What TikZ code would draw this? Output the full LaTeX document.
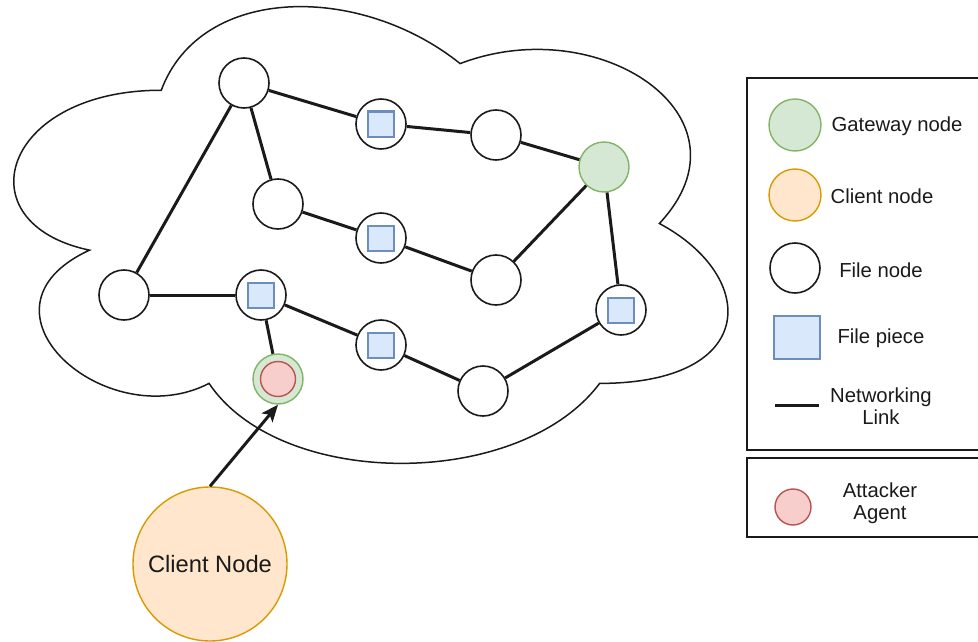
\documentclass[tikz,border=0pt]{standalone}
\usepackage{fontspec}
\setmainfont{Liberation Sans}
\usetikzlibrary{arrows.meta}

\definecolor{gwfill}{HTML}{D5E8D4}
\definecolor{gwline}{HTML}{82B366}
\definecolor{clfill}{HTML}{FFE6CC}
\definecolor{clline}{HTML}{D79B00}
\definecolor{pcfill}{HTML}{DAE8FC}
\definecolor{pcline}{HTML}{6C8EBF}
\definecolor{atfill}{HTML}{F8CECC}
\definecolor{atline}{HTML}{B85450}
\definecolor{ink}{HTML}{1A1A1A}

\tikzset{
  x=1pt, y=-1pt,
  filenode/.style={circle, draw=ink, fill=white, line width=1.6pt, minimum size=50pt, inner sep=0pt},
  gwnode/.style={circle, draw=gwline, fill=gwfill, line width=1.4pt, minimum size=50pt, inner sep=0pt},
  clnode/.style={circle, draw=clline, fill=clfill, line width=1.4pt, inner sep=0pt},
  atnode/.style={circle, draw=atline, fill=atfill, line width=1.4pt, minimum size=35pt, inner sep=0pt},
  piece/.style={rectangle, draw=pcline, fill=pcfill, line width=2pt, minimum width=26pt, minimum height=25pt, inner sep=0pt},
  link/.style={draw=ink, line width=3pt},
  cloudline/.style={draw=ink, line width=1.5pt},
  boxline/.style={draw=ink, line width=1.5pt},
  legtext/.style={font=\fontsize{20.3}{22.5}\selectfont, text=ink, align=center, inner sep=0pt},
}

\begin{document}
\begin{tikzpicture}
\useasboundingbox (0,0) rectangle (978,642);

% cloud outline
\draw[cloudline] (161.25,90.25)
  .. controls (1.85,90.25) and (-38,223.5) .. (89.52,250.15)
  .. controls (-38,308.78) and (105.46,436.7) .. (209.07,383.4)
  .. controls (280.8,490) and (519.9,490) .. (599.6,383.4)
  .. controls (759,383.4) and (759,276.8) .. (659.38,223.5)
  .. controls (759,116.9) and (599.6,10.3) .. (460.13,63.6)
  .. controls (360.5,-16.35) and (201.1,-16.35) .. (161.25,90.25) -- cycle;

% network nodes
\node[filenode] (A) at (244,83) {};
\node[filenode] (B) at (381,124) {};
\node[filenode] (C) at (496,135) {};
\node[gwnode]   (G) at (604,167) {};
\node[filenode] (D) at (278,204) {};
\node[filenode] (E) at (381,238) {};
\node[filenode] (F) at (496,280) {};
\node[filenode] (H) at (124,295) {};
\node[filenode] (I) at (261,295) {};
\node[filenode] (J) at (621,310) {};
\node[filenode] (K) at (381,345) {};
\node[filenode] (L) at (483,391) {};
\node[gwnode]   (att) at (278,379) {};
\node[atnode]   (attin) at (att) {};

% file pieces held by nodes
\node[piece] (Bp) at (B) {};
\node[piece] (Ep) at (E) {};
\node[piece] (Ip) at (I) {};
\node[piece] (Jp) at (J) {};
\node[piece] (Kp) at (K) {};

% networking links
\draw[link] (A) -- (B);
\draw[link] (B) -- (C);
\draw[link] (C) -- (G);
\draw[link] (A) -- (H);
\draw[link] (A) -- (D);
\draw[link] (D) -- (E);
\draw[link] (E) -- (F);
\draw[link] (F) -- (G);
\draw[link] (G) -- (J);
\draw[link] (H) -- (I);
\draw[link] (I) -- (att);
\draw[link] (I) -- (K);
\draw[link] (K) -- (L);
\draw[link] (L) -- (J);

% outside client
\node[clnode, minimum size=154pt, font=\fontsize{23.7}{26}\selectfont, text=ink] (client) at (210,564) {Client Node};
\draw[link, -{Stealth[length=17pt, width=14pt, inset=4pt]}] (client.north) -- (att.south);

% legend
\draw[boxline] (747,78) rectangle (995,450);
\draw[boxline] (747,458) rectangle (995,537);

\node[gwnode, minimum size=52pt] (lgw) at (795,125) {};
\node[legtext] (lgwt) at (897,126) {Gateway node};
\node[clnode, minimum size=52pt] (lcl) at (795,195) {};
\node[legtext] (lclt) at (882,196) {Client node};
\node[filenode] (lfn) at (795,268) {};
\node[legtext] (lfnt) at (881,270) {File node};
\node[piece, minimum width=46pt, minimum height=43pt] (lpc) at (797,337) {};
\node[legtext] (lpct) at (881,338) {File piece};
\coordinate (lk1) at (775,405);
\coordinate (lk2) at (819,405);
\draw[link] (lk1) -- (lk2);
\node[legtext] (lkt) at (881,406) {Networking\\Link};
\node[atnode, minimum size=36pt] (lat) at (793,507) {};
\node[legtext] (latt) at (880,503) {Attacker\\Agent};
\end{tikzpicture}
\end{document}
